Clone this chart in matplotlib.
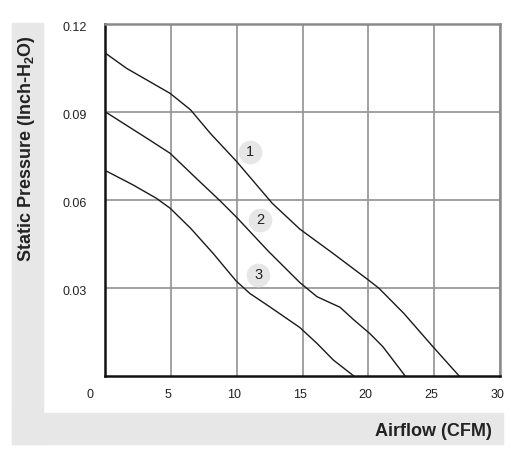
import matplotlib
matplotlib.use("Agg")
import matplotlib.pyplot as plt
import matplotlib.transforms as mtransforms
from matplotlib.patches import Rectangle

# ---- data ----
x1 = [0, 1.65, 3.4, 4.95, 6.5, 8.0, 10.0, 12.7, 14.8, 17.3, 20.0, 20.8, 22.7, 24.9, 26.9]
y1 = [0.110, 0.1047, 0.1002, 0.0962, 0.0906, 0.0826, 0.0730, 0.0588, 0.0500, 0.0418, 0.0327, 0.0299, 0.0213, 0.0100, 0.0]

x2 = [0, 3.4, 4.95, 7.0, 8.75, 10.0, 12.4, 14.8, 16.1, 17.85, 18.9, 20.1, 21.1, 22.8]
y2 = [0.090, 0.0803, 0.0758, 0.0670, 0.0596, 0.0540, 0.0425, 0.0318, 0.0270, 0.0234, 0.0191, 0.0145, 0.0100, 0.0]

x3 = [0, 2.15, 3.9, 4.95, 6.5, 8.2, 9.95, 11.0, 12.5, 14.8, 16.1, 17.35, 18.9]
y3 = [0.070, 0.065, 0.0605, 0.0571, 0.0503, 0.0418, 0.0324, 0.0281, 0.0236, 0.0165, 0.0111, 0.0054, 0.0]

curve_labels = ["1", "2", "3"]
label_x = [11.0, 11.77, 11.65]
label_y = [0.0761, 0.0531, 0.0344]

xticks = [0, 5, 10, 15, 20, 25, 30]
yticks = [0.03, 0.06, 0.09, 0.12]
ytick_labels = ["0.03", "0.06", "0.09", "0.12"]
xlabel = "Airflow (CFM)"
ylabel = "Static Pressure (Inch-H$_\\mathbf{2}$O)"

plt.rcParams['font.family'] = ['Liberation Sans', 'DejaVu Sans']
plt.rcParams['mathtext.fontset'] = 'custom'
plt.rcParams['mathtext.bf'] = 'Liberation Sans:bold'
plt.rcParams['mathtext.rm'] = 'Liberation Sans'
W, H = 518, 457
fig = plt.figure(figsize=(W / 100, H / 100), dpi=100)

# gray L-shaped background
gray = "#e7e7e8"
fig.patches.append(Rectangle((12 / W, 1 - 444 / H), (43 - 12) / W, (444 - 23) / H,
                             transform=fig.transFigure, color=gray, zorder=0))
fig.patches.append(Rectangle((12 / W, 1 - 444 / H), (503 - 12) / W, (444 - 413) / H,
                             transform=fig.transFigure, color=gray, zorder=0))

ax = fig.add_axes([105 / W, 1 - 376 / H, (500 - 105) / W, (376 - 23.5) / H])
ax.set_xlim(0, 30)
ax.set_ylim(0, 0.12)

for xs, ys in [(x1, y1), (x2, y2), (x3, y3)]:
    ax.plot(xs, ys, color="#1a1a1a", lw=1.0, zorder=3, solid_joinstyle="round")

ax.scatter(label_x, label_y, s=290, color="#e6e6e6", zorder=4, linewidths=0)
for lx, ly, t in zip(label_x, label_y, curve_labels):
    ax.text(lx, ly, t, ha="center", va="center", fontsize=10.5, color="#222222", zorder=5)

ax.set_xticks(xticks)
ax.set_xticklabels([str(v) for v in xticks], fontsize=9, color="#222222")
ax.set_yticks(yticks)
ax.set_yticklabels(ytick_labels, fontsize=9, color="#222222")
ax.tick_params(axis="both", length=0)
ax.tick_params(axis="x", pad=9)
ax.tick_params(axis="y", pad=13)

# shift tick labels slightly as in reference
for lab in ax.get_xticklabels():
    dx = -15 if lab.get_text() == "0" else -3
    lab.set_transform(lab.get_transform() + mtransforms.ScaledTranslation(dx / 100, 0, fig.dpi_scale_trans))
for lab in ax.get_yticklabels():
    lab.set_transform(lab.get_transform() + mtransforms.ScaledTranslation(0, -3 / 100, fig.dpi_scale_trans))

ax.grid(True, color="#9a9a9a", lw=1.3, zorder=1)
ax.set_axisbelow(True)
for side in ["left", "bottom"]:
    ax.spines[side].set_color("#111111")
    ax.spines[side].set_linewidth(1.8)
for side in ["top", "right"]:
    ax.spines[side].set_color("#8a8a8a")
    ax.spines[side].set_linewidth(1.8)

fig.text(27 / W, 1 - 149 / H, ylabel, rotation=90, ha="center", va="center",
         fontsize=13, fontweight="bold", color="#222222")
fig.text(492 / W, 1 - 431 / H, xlabel, ha="right", va="center",
         fontsize=13, fontweight="bold", color="#222222")

fig.savefig("out.png", dpi=100)
